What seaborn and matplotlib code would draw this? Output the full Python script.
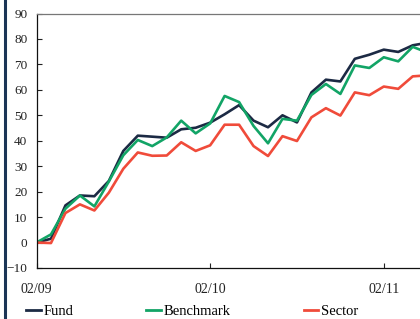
import pandas as pd
import numpy as np
import seaborn as sns
import matplotlib.pyplot as plt
from matplotlib.lines import Line2D

# monthly cumulative performance (%) starting 02/09
months = list(range(28))
fund = [0, 1.5, 14.6, 18.5, 18.2, 24.2, 36, 42, 41.6, 41.2, 44.5, 45.1, 47.1, 50.4, 54,
        47.9, 45.3, 50, 47.2, 59, 64, 63.3, 72.2, 73.8, 75.8, 74.9, 77.5, 78.5]
benchmark = [0, 3.2, 13.3, 18.5, 14.2, 24, 34.3, 40.3, 37.9, 41.3, 47.9, 42.9, 46.8, 57.6, 55.2,
             45.8, 39, 48.6, 47.9, 58, 62.3, 58.4, 69.6, 68.6, 72.8, 71.2, 76.9, 74.7]
sector = [0, -0.2, 11.6, 15, 12.6, 19.6, 29, 35.4, 34.1, 34.2, 39.4, 36, 38.2, 46.3, 46.3,
          37.9, 34, 41.8, 39.9, 49.2, 52.8, 49.9, 59, 57.9, 61.3, 60.4, 65.3, 65.7]
tick_pos = [0, 12, 24]
tick_labels = ["02/09", "02/10", "02/11"]
series_names = ["Fund", "Benchmark", "Sector"]
colors = ["#1c2a44", "#12a466", "#f04b3a"]

df = pd.DataFrame({
    "month": months * 3,
    "value": fund + benchmark + sector,
    "series": ["Fund"] * 28 + ["Benchmark"] * 28 + ["Sector"] * 28,
})

plt.rcParams['font.family'] = ['Liberation Serif', 'DejaVu Serif']

fig = plt.figure(figsize=(4.2, 3.19), dpi=100)
ax = fig.add_axes([36.5 / 420, 51 / 319, 28 * 14.47 / 420, 254.5 / 319])

sns.lineplot(data=df, x="month", y="value", hue="series", hue_order=series_names,
             palette=colors, linewidth=1.9, ax=ax, legend=False)

ax.set_xlim(0, 28)
ax.set_ylim(-10, 90)
ax.set_yticks(range(-10, 91, 10))
ax.set_xticks(tick_pos)
ax.set_xticklabels(tick_labels)
ax.set_xlabel("")
ax.set_ylabel("")
ax.tick_params(axis='y', direction='in', length=3.5, width=0.8, pad=6.5,
               labelsize=9.5, colors="#222222")
ax.tick_params(axis='x', direction='in', length=3.5, width=0.8, pad=11,
               labelsize=10, colors="#222222")
ax.spines['right'].set_visible(False)
ax.spines['top'].set_color("#777777")
ax.spines['left'].set_color("#111111")
ax.spines['bottom'].set_color("#111111")
for s in ['top', 'left', 'bottom']:
    ax.spines[s].set_linewidth(0.9)

# navy rule at the left edge
fig.add_artist(Line2D([4.5 / 420, 4.5 / 420], [0, 1], transform=fig.transFigure,
                      color="#1b3556", linewidth=2.2))

handles = [Line2D([0], [0], color=c, linewidth=2) for c in colors]
fig.legend(handles, series_names, loc="lower left", bbox_to_anchor=(26 / 420, 0.004),
           ncol=3, frameon=False, fontsize=10.5, handlelength=1.0, handletextpad=0.2,
           columnspacing=5.0, borderpad=0, borderaxespad=0)

plt.savefig("out.png", dpi=100)
